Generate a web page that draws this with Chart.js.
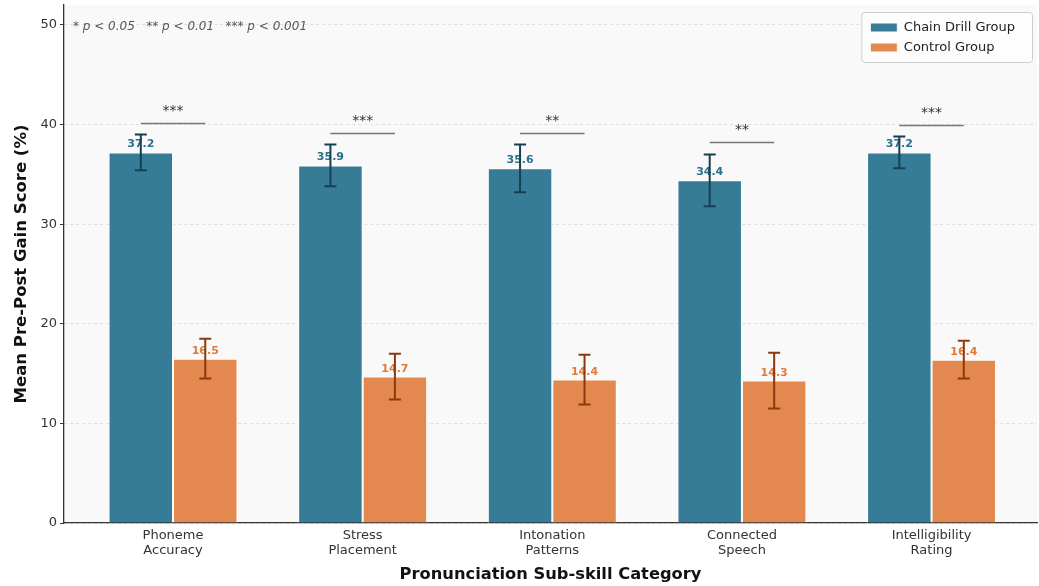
<!DOCTYPE html>
<html>
<head>
<meta charset="utf-8">
<script src="https://cdn.jsdelivr.net/npm/chart.js@4.4.1/dist/chart.umd.min.js"></script>
<style>
  html, body { margin: 0; padding: 0; background: #fff; }
  #wrap { width: 1039px; height: 586px; }
</style>
</head>
<body>
<div id="wrap"><canvas id="chart"></canvas></div>
<script>
const categories = [
  ['Phoneme', 'Accuracy'],
  ['Stress', 'Placement'],
  ['Intonation', 'Patterns'],
  ['Connected', 'Speech'],
  ['Intelligibility', 'Rating']
]
const chainDrill = [37.2, 35.9, 35.6, 34.4, 37.2]
const chainDrillErr = [1.8, 2.1, 2.4, 2.6, 1.6]
const control = [16.5, 14.7, 14.4, 14.3, 16.4]
const controlErr = [2.0, 2.3, 2.5, 2.8, 1.9]
const significance = ['***', '***', '**', '**', '***']
const pNote = '* p < 0.05   ** p < 0.01   *** p < 0.001'

const BLUE = '#367c96'
const ORANGE = '#e3894f'
const BLUE_DARK = '#173f52'
const ORANGE_DARK = '#8a3a0c'
const BLUE_TEXT = '#2a6f8c'
const ORANGE_TEXT = '#e07b39'

Chart.defaults.font.family = "'DejaVu Sans', sans-serif"
Chart.defaults.color = '#333'

const toPoints = values => values.map((y, x) => ({ x, y }))

const decorations = {
  id: 'decorations',
  afterLayout(chart) {
    // move the legend into the upper right corner of the plot
    const legend = chart.legend
    const area = chart.chartArea
    const w = legend.width
    legend.right = area.right - 12
    legend.left = legend.right - w
    legend.top = area.top + 9
    legend.height = 48
    legend.bottom = legend.top + legend.height
  },
  beforeDraw(chart) {
    const { ctx, chartArea: a } = chart
    ctx.save()
    ctx.fillStyle = '#f9f9f9'
    ctx.fillRect(a.left, a.top, a.right - a.left, a.bottom - a.top)
    ctx.restore()
  },
  afterDatasetsDraw(chart) {
    const { ctx, scales: { y } } = chart
    const blueMeta = chart.getDatasetMeta(0)
    const orangeMeta = chart.getDatasetMeta(1)

    ctx.save()
    // value labels
    ctx.font = "bold 11px 'DejaVu Sans'"
    ctx.textAlign = 'center'
    ctx.textBaseline = 'alphabetic'
    chainDrill.forEach((v, i) => {
      ctx.fillStyle = BLUE_TEXT
      ctx.fillText(v.toFixed(1), blueMeta.data[i].x, y.getPixelForValue(v) - 5)
    })
    control.forEach((v, i) => {
      ctx.fillStyle = ORANGE_TEXT
      ctx.fillText(v.toFixed(1), orangeMeta.data[i].x, y.getPixelForValue(v) - 5)
    })

    // error bars
    const errorBar = (x, v, e, color) => {
      const top = y.getPixelForValue(v + e)
      const bottom = y.getPixelForValue(v - e)
      ctx.strokeStyle = color
      ctx.lineWidth = 2
      ctx.beginPath()
      ctx.moveTo(x, top); ctx.lineTo(x, bottom)
      ctx.moveTo(x - 6, top); ctx.lineTo(x + 6, top)
      ctx.moveTo(x - 6, bottom); ctx.lineTo(x + 6, bottom)
      ctx.stroke()
    }
    chainDrill.forEach((v, i) => errorBar(blueMeta.data[i].x, v, chainDrillErr[i], BLUE_DARK))
    control.forEach((v, i) => errorBar(orangeMeta.data[i].x, v, controlErr[i], ORANGE_DARK))

    // significance brackets
    significance.forEach((stars, i) => {
      const level = Math.max(chainDrill[i] + chainDrillErr[i], control[i] + controlErr[i]) + 1.2
      const py = Math.round(y.getPixelForValue(level)) + 0.5
      const x1 = blueMeta.data[i].x
      const x2 = orangeMeta.data[i].x
      ctx.strokeStyle = '#777'
      ctx.lineWidth = 1.6
      ctx.beginPath()
      ctx.moveTo(x1, py); ctx.lineTo(x2, py)
      ctx.stroke()
      ctx.fillStyle = '#333'
      ctx.font = "14px 'DejaVu Sans'"
      ctx.textAlign = 'center'
      ctx.fillText(stars, (x1 + x2) / 2, py - 9)
    })

    // p-value note
    ctx.fillStyle = '#555'
    ctx.font = "italic 12px 'DejaVu Sans'"
    ctx.textAlign = 'left'
    ctx.fillText(pNote, chart.chartArea.left + 9, 30)

    // legend frame, then the legend again on top of it
    const lg = chart.legend
    const fx = lg.left - 2, fy = lg.top - 2, fw = lg.width + 9, fh = 50
    ctx.fillStyle = '#fdfdfd'
    ctx.strokeStyle = '#cccccc'
    ctx.lineWidth = 1
    ctx.beginPath()
    ctx.roundRect(fx + 0.5, fy + 0.5, fw, fh, 3)
    ctx.fill()
    ctx.stroke()
    ctx.restore()
    lg.draw()
  }
}

new Chart(document.getElementById('chart'), {
  type: 'bar',
  data: {
    datasets: [
      {
        label: 'Chain Drill Group',
        data: toPoints(chainDrill),
        backgroundColor: BLUE,
        borderColor: '#ffffff',
        borderWidth: 1
      },
      {
        label: 'Control Group',
        data: toPoints(control),
        backgroundColor: ORANGE,
        borderColor: '#ffffff',
        borderWidth: 1
      }
    ]
  },
  options: {
    responsive: true,
    maintainAspectRatio: false,
    animation: false,
    layout: { padding: { left: 0, right: 2, top: 5, bottom: 0 } },
    datasets: {
      bar: { categoryPercentage: 0.68, barPercentage: 1 }
    },
    plugins: {
      tooltip: { enabled: false },
      legend: {
        position: 'chartArea',
        align: 'start',
        labels: {
          boxWidth: 27,
          boxHeight: 9,
          padding: 7,
          color: '#222',
          font: { size: 13 },
          useBorderRadius: false
        }
      }
    },
    scales: {
      x: {
        type: 'linear',
        offset: false,
        min: -0.575,
        max: 4.556,
        grid: { display: false, drawTicks: false, tickLength: 0 },
        border: { display: true, color: '#333', width: 1.3 },
        ticks: {
          stepSize: 1,
          includeBounds: false,
          maxRotation: 0,
          autoSkip: false,
          padding: 5,
          color: '#333',
          font: { size: 13, lineHeight: 1.15 },
          callback: v => Number.isInteger(v) && categories[v] ? categories[v] : ''
        },
        title: {
          display: true,
          text: 'Pronunciation Sub-skill Category',
          color: '#111',
          font: { size: 16.3, weight: 'bold' },
          padding: { top: 0, bottom: 1 }
        },
        afterFit: scale => {
          scale.height = 63
          scale.paddingLeft = 0
          scale.paddingRight = 0
        }
      },
      y: {
        min: 0,
        max: 52,
        grid: {
          color: '#d9d9d9',
          lineWidth: 0.8,
          tickColor: '#333',
          tickLength: 4,
          tickWidth: 1
        },
        border: { display: true, color: '#333', width: 1.3, dash: [3, 3] },
        ticks: {
          stepSize: 10,
          includeBounds: false,
          padding: 3,
          color: '#333',
          font: { size: 13 }
        },
        title: {
          display: true,
          text: 'Mean Pre-Post Gain Score (%)',
          color: '#111',
          font: { size: 16.5, weight: 'bold' },
          padding: { top: 12, bottom: 0 }
        },
        afterFit: scale => {
          scale.width = 64
          scale.paddingTop = 0
          scale.paddingBottom = 0
        }
      }
    }
  },
  plugins: [decorations]
})
</script>
</body>
</html>
